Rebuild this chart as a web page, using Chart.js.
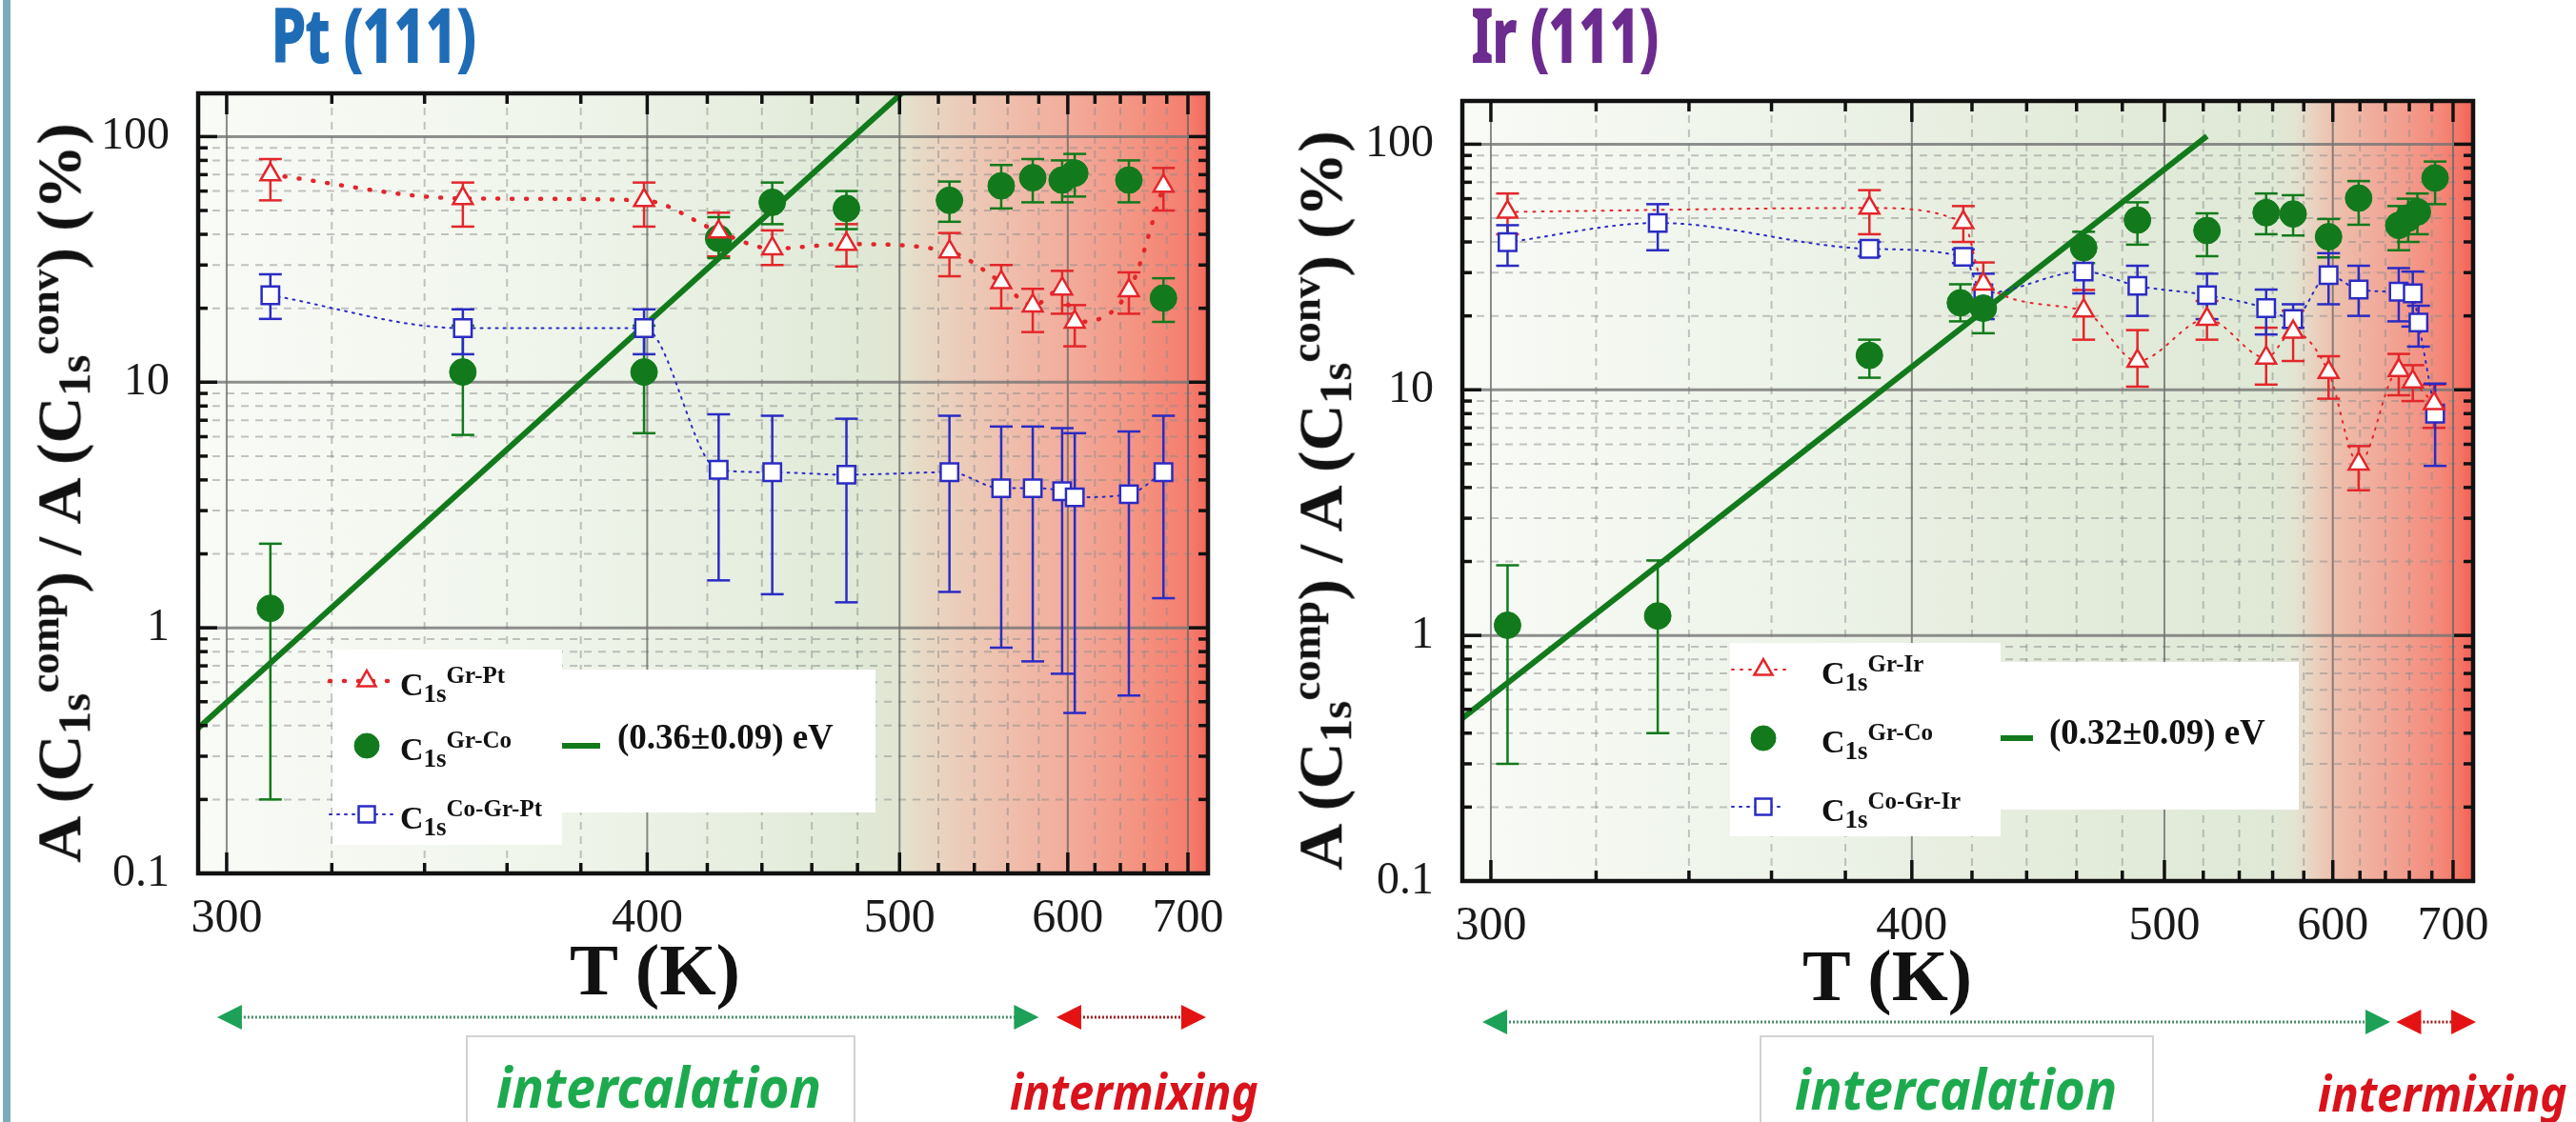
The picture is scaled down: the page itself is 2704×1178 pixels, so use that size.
<!DOCTYPE html>
<html>
<head>
<meta charset="utf-8">
<title>Gr/Co intercalation on Pt(111) and Ir(111)</title>
<script src="https://cdn.jsdelivr.net/npm/chart.js@4.4.1/dist/chart.umd.min.js"></script>
<style>
  html, body { margin: 0; padding: 0; background: #fff; }
  body { position: relative; width: 2704px; height: 1178px; overflow: hidden; }
  canvas { position: absolute; top: 0; }
  #cPt { left: 0; }
  #cIr { left: 1352px; }
  .txt { position: absolute; white-space: nowrap; }
  .heavy { -webkit-text-stroke: 2px currentColor; }
  .sb { font-size: 0.72em; position: relative; top: 0.22em; }
  .sp { font-size: 0.66em; position: relative; top: -0.52em; }
  .edge { position: absolute; left: 3px; top: 0; width: 8px; height: 1178px; background: #7eabba; }
  .box { position: absolute; background: #fff; border: 2px solid #d2d2d2; }
</style>
</head>
<body>
<div class="edge"></div>
<canvas id="cPt" width="1352" height="1178"></canvas>
<canvas id="cIr" width="1352" height="1178"></canvas>
<div class="box" style="left:489px; top:1087px; width:405px; height:120px;"></div>
<div class="box" style="left:1847px; top:1087px; width:410px; height:120px;"></div>
<script>
// ---- Pt(111): temperature (K) and A(comp)/A(conv) ratio (%) ----
const T_PT = [308, 349, 399, 424, 444, 475, 526, 556, 576, 596, 605, 647, 677];
const PT_GRPT    = [70, 56, 55, 41, 35, 36.5, 34, 25.5, 20.5, 24, 17.6, 23.6, 63];
const PT_GRPT_LO = [55, 43, 43, 32.5, 30, 29.6, 27, 20, 16, 19, 14, 19, 50];
const PT_GRPT_HI = [81, 65, 65, 49, 41.5, 44, 40.5, 30, 24, 28.4, 20.6, 28, 74.5];
const PT_GRCO    = [1.2, 11, 11, 38.5, 54, 51, 55, 63, 68, 66.5, 71, 66.5, 22];
const PT_GRCO_LO = [0.2, 6.1, 6.2, 32, 44, 42, 45, 51, 54, 54, 57, 54, 17.6];
const PT_GRCO_HI = [2.2, 17, 17, 47, 65, 60, 65.6, 76.6, 81, 80, 85, 80, 26.5];
const PT_COGR    = [22.6, 16.6, 16.6, 4.4, 4.3, 4.2, 4.3, 3.7, 3.7, 3.6, 3.4, 3.5, 4.3];
const PT_COGR_LO = [18.1, 13, 13, 1.56, 1.37, 1.27, 1.4, 0.83, 0.73, 0.65, 0.45, 0.53, 1.32];
const PT_COGR_HI = [27.5, 19.8, 19.8, 7.4, 7.3, 7.1, 7.3, 6.6, 6.6, 6.5, 6.2, 6.3, 7.3];
const PT_FIT_T = [295, 501];
const PT_FIT_V = [0.39, 150];

// ---- Ir(111) ----
const T_IR_GRIR = [303, 387, 417, 424, 463, 487, 522, 556, 573, 597, 619, 651, 663, 682];
const IR_GRIR    = [53, 55, 48, 27, 21, 13.1, 19.4, 13.5, 17.2, 11.8, 5.0, 12.0, 10.8, 8.8];
const IR_GRIR_LO = [43, 43, 40, 22, 16, 10.3, 16, 10.5, 13.1, 9.2, 3.9, 9.5, 9, 7];
const IR_GRIR_HI = [63, 65, 56, 33, 25.5, 17.5, 23, 17.9, 21, 13.7, 5.9, 14, 12.6, 10.5];
const T_IR_GRCO = [303, 333, 387, 416, 424, 463, 487, 522, 556, 573, 597, 619, 651, 659, 667, 683];
const IR_GRCO    = [1.1, 1.2, 13.8, 22.6, 21.5, 37.9, 49.1, 44.5, 52.6, 52, 42, 60.3, 46.7, 50, 53, 72.8];
const IR_GRCO_LO = [0.3, 0.4, 11.2, 19, 17, 32.8, 39, 35, 43, 42.5, 34.6, 47, 37, 40, 43, 57];
const IR_GRCO_HI = [1.93, 2.02, 16, 26.9, 25.6, 44, 58, 52.3, 63, 62, 49.6, 70.8, 56, 60, 63, 85];
const T_IR_COGR = [303, 333, 387, 417, 424, 463, 487, 522, 556, 573, 597, 619, 651, 663, 668, 683];
const IR_COGR    = [39.9, 47.8, 37.5, 34.8, 24.7, 30.3, 26.5, 24.3, 21.5, 19.4, 29.3, 25.6, 25.1, 24.7, 18.8, 8.0];
const IR_COGR_LO = [32, 37, 35, 32.8, 19.4, 24.7, 20, 19.4, 16.8, 17.9, 22.3, 20, 19, 18.1, 15, 4.9];
const IR_COGR_HI = [46.8, 57, 40, 37.3, 29.7, 37.3, 32, 29.7, 25.6, 22.3, 36, 32, 31.3, 30.3, 22, 10.6];
const IR_FIT_T = [295, 522];
const IR_FIT_V = [0.46, 108];

// ---- axes ----
const T_MIN = 295, T_MAX = 720;
const T_MAJOR = [300, 400, 500, 600, 700];
const T_MINOR = [320, 340, 360, 380, 420, 440, 460, 480, 520, 540, 560, 580, 620, 640, 660, 680];
const Y_MIN = 0.1, Y_MAX = 150;
const Y_TICKS = [0.1, 1, 10, 100];
const Y_LABELS = ['0.1', '1', '10', '100'];
const Y_MINOR = [0.2, 0.3, 0.4, 0.5, 0.6, 0.7, 0.8, 0.9, 2, 3, 4, 5, 6, 7, 8, 9, 20, 30, 40, 50, 60, 70, 80, 90];

const RED = '#e3262b', GREEN = '#127a1c', BLUE = '#2b2bc4';
const SERIF = '"Liberation Serif", "Times New Roman", serif';

function series(T, V) {
  return T.map((t, i) => ({ x: 1000 / t, y: V[i] }));
}

function line(ctx, x0, y0, x1, y1) {
  ctx.beginPath(); ctx.moveTo(x0, y0); ctx.lineTo(x1, y1); ctx.stroke();
}

function cLabel(ctx, x, base, sup) {
  ctx.fillStyle = '#111';
  ctx.textAlign = 'left';
  ctx.textBaseline = 'alphabetic';
  ctx.font = 'bold 34px ' + SERIF;
  ctx.fillText('C', x, base);
  x += ctx.measureText('C').width;
  ctx.font = 'bold 27px ' + SERIF;
  ctx.fillText('1s', x, base + 7);
  x += ctx.measureText('1s').width;
  ctx.font = 'bold 25px ' + SERIF;
  ctx.fillText(sup, x, base - 13);
}

// background, grid, error bars, frame, legend and arrows
function decor(p) {
  return {
    id: 'decor',
    beforeDraw(chart) {
      const { ctx, chartArea: a, scales: { x } } = chart;
      const g = ctx.createLinearGradient(a.left, 0, a.right, 0);
      p.bg.forEach(([t, c]) => {
        const f = (x.getPixelForValue(1000 / t) - a.left) / (a.right - a.left);
        g.addColorStop(Math.min(1, Math.max(0, f)), c);
      });
      ctx.save();
      ctx.fillStyle = g;
      ctx.fillRect(a.left, a.top, a.width, a.height);
      ctx.restore();
    },
    beforeDatasetsDraw(chart) {
      const { ctx, chartArea: a, scales: { x, y } } = chart;
      ctx.save();
      ctx.beginPath(); ctx.rect(a.left, a.top, a.width, a.height); ctx.clip();
      ctx.setLineDash([8, 7]);
      ctx.lineWidth = 2;
      ctx.strokeStyle = 'rgba(140,140,140,0.5)';
      T_MINOR.forEach(t => { const px = x.getPixelForValue(1000 / t); line(ctx, px, a.top, px, a.bottom); });
      Y_MINOR.forEach(v => { const py = y.getPixelForValue(v); line(ctx, a.left, py, a.right, py); });
      ctx.setLineDash([]);
      ctx.strokeStyle = 'rgba(100,100,100,0.75)';
      T_MAJOR.forEach(t => { const px = x.getPixelForValue(1000 / t); line(ctx, px, a.top, px, a.bottom); });
      ctx.lineWidth = 3;
      ctx.strokeStyle = 'rgba(115,115,115,0.8)';
      Y_TICKS.forEach(v => { const py = y.getPixelForValue(v); line(ctx, a.left, py, a.right, py); });
      // legend panel hides the grid
      ctx.fillStyle = '#fff';
      p.legend.boxes.forEach(b => ctx.fillRect(b[0], b[1], b[2] - b[0], b[3] - b[1]));
      ctx.restore();

      // error bars
      ctx.save();
      chart.data.datasets.forEach((ds, i) => {
        if (!ds.errLo) return;
        const meta = chart.getDatasetMeta(i);
        ctx.strokeStyle = ds.errColor;
        ctx.lineWidth = 2.5;
        meta.data.forEach((pt, j) => {
          const yl = y.getPixelForValue(ds.errLo[j]);
          const yh = y.getPixelForValue(ds.errHi[j]);
          line(ctx, pt.x, yl, pt.x, yh);
          line(ctx, pt.x - 12, yl, pt.x + 12, yl);
          line(ctx, pt.x - 12, yh, pt.x + 12, yh);
        });
      });
      ctx.restore();
    },
    afterDatasetsDraw(chart) {
      const { ctx, chartArea: a, scales: { x, y } } = chart;
      ctx.save();
      // inward ticks on all four sides
      ctx.strokeStyle = '#111';
      ctx.lineWidth = 3.5;
      const xt = (t, len) => {
        const px = x.getPixelForValue(1000 / t);
        line(ctx, px, a.bottom, px, a.bottom - len);
        line(ctx, px, a.top, px, a.top + len);
      };
      T_MAJOR.forEach(t => xt(t, 22));
      T_MINOR.forEach(t => xt(t, 11));
      const yt = (v, len) => {
        const py = y.getPixelForValue(v);
        line(ctx, a.left, py, a.left + len, py);
        line(ctx, a.right, py, a.right - len, py);
      };
      Y_TICKS.forEach(v => yt(v, 20));
      Y_MINOR.forEach(v => yt(v, 10));
      ctx.lineWidth = 4.5;
      ctx.strokeRect(a.left, a.top, a.width, a.height);

      // legend
      const L = p.legend;
      L.rows.forEach(r => {
        const ds = chart.data.datasets[r.ds];
        if (ds.showLine !== false) {
          ctx.save();
          ctx.strokeStyle = ds.borderColor;
          ctx.lineWidth = ds.borderWidth;
          ctx.lineCap = ds.borderCapStyle || 'butt';
          ctx.setLineDash(ds.borderDash || []);
          line(ctx, L.lineX[0], r.y, L.lineX[1], r.y);
          ctx.restore();
        }
        ctx.fillStyle = ds.pointBackgroundColor;
        ctx.strokeStyle = ds.pointBorderColor;
        ctx.lineWidth = ds.pointBorderWidth;
        Chart.helpers.drawPoint(ctx, { pointStyle: ds.pointStyle, rotation: 0, radius: r.radius, borderWidth: ds.pointBorderWidth }, L.markX, r.y);
        cLabel(ctx, L.textX, r.y + 15, r.sup);
      });
      const fds = chart.data.datasets[3];
      ctx.strokeStyle = fds.borderColor;
      ctx.lineWidth = 6;
      line(ctx, L.fit.x0, L.fit.y, L.fit.x1, L.fit.y);
      ctx.fillStyle = '#111';
      ctx.font = 'bold 37px ' + SERIF;
      ctx.textBaseline = 'alphabetic';
      ctx.fillText(L.fit.text, L.fit.tx, L.fit.base);

      // regime arrows under the axis
      p.arrows.forEach(ar => {
        const x0 = x.getPixelForValue(1000 / ar.from);
        const x1 = x.getPixelForValue(1000 / ar.to);
        const yy = a.bottom + p.arrowDy;
        ctx.save();
        ctx.strokeStyle = ar.line;
        ctx.lineWidth = 3;
        ctx.setLineDash([2, 2]);
        line(ctx, x0 + 20, yy, x1 - 20, yy);
        ctx.restore();
        ctx.fillStyle = ar.head;
        [[x0, 1], [x1, -1]].forEach(([tx, d]) => {
          ctx.beginPath();
          ctx.moveTo(tx, yy);
          ctx.lineTo(tx + d * 26, yy - 13);
          ctx.lineTo(tx + d * 26, yy + 13);
          ctx.closePath();
          ctx.fill();
        });
      });
      ctx.restore();
    }
  };
}

function datasets(d) {
  return [
    { data: series(d.tA, d.a), errLo: d.aLo, errHi: d.aHi, errColor: RED,
      borderColor: RED, borderWidth: d.aWidth, borderDash: d.aDash, borderCapStyle: 'round',
      cubicInterpolationMode: 'monotone', fill: false,
      pointStyle: 'triangle', pointRadius: 12, pointBackgroundColor: '#fff', pointBorderColor: RED, pointBorderWidth: 2.5 },
    { data: series(d.tB, d.b), errLo: d.bLo, errHi: d.bHi, errColor: GREEN, showLine: false,
      borderColor: GREEN, pointStyle: 'circle', pointRadius: 14, pointBackgroundColor: GREEN, pointBorderColor: GREEN, pointBorderWidth: 1 },
    { data: series(d.tC, d.c), errLo: d.cLo, errHi: d.cHi, errColor: BLUE,
      borderColor: BLUE, borderWidth: 2, borderDash: [2, 6], borderCapStyle: 'round',
      cubicInterpolationMode: 'monotone', fill: false,
      pointStyle: 'rect', pointRadius: 13, pointBackgroundColor: '#fff', pointBorderColor: BLUE, pointBorderWidth: 2.5 },
    { data: series(d.fitT, d.fitV), borderColor: GREEN, borderWidth: 6, pointRadius: 0, fill: false, tension: 0 }
  ];
}

function makeChart(id, p) {
  return new Chart(document.getElementById(id), {
    type: 'line',
    data: { datasets: p.datasets },
    options: {
      responsive: false,
      animation: false,
      events: [],
      layout: { padding: p.pad },
      plugins: { legend: { display: false }, tooltip: { enabled: false } },
      scales: {
        x: {
          type: 'linear', reverse: true, min: 1000 / T_MAX, max: 1000 / T_MIN,
          afterBuildTicks: s => { s.ticks = T_MAJOR.map(t => ({ value: 1000 / t })); },
          afterFit: s => { s.height = 100; },
          grid: { display: false, drawTicks: false },
          border: { display: false },
          ticks: {
            autoSkip: false, maxRotation: 0, padding: 18, color: '#1a1a1a',
            font: { family: SERIF, size: 50 },
            callback: v => String(Math.round(1000 / v))
          }
        },
        y: {
          type: 'logarithmic', min: Y_MIN, max: Y_MAX,
          afterBuildTicks: s => { s.ticks = Y_TICKS.map(v => ({ value: v })); },
          afterFit: s => { s.width = p.yWidth; },
          grid: { display: false, drawTicks: false },
          border: { display: false },
          ticks: {
            autoSkip: false, padding: 30, color: '#1a1a1a',
            font: { family: SERIF, size: 48 },
            callback: v => Y_LABELS[Y_TICKS.indexOf(v)]
          }
        }
      }
    },
    plugins: [decor(p)]
  });
}

makeChart('cPt', {
  yWidth: 208,
  pad: { left: 0, top: 98, right: 84, bottom: 161 },
  datasets: datasets({
    tA: T_PT, a: PT_GRPT, aLo: PT_GRPT_LO, aHi: PT_GRPT_HI, aWidth: 4.5, aDash: [1, 14],
    tB: T_PT, b: PT_GRCO, bLo: PT_GRCO_LO, bHi: PT_GRCO_HI,
    tC: T_PT, c: PT_COGR, cLo: PT_COGR_LO, cHi: PT_COGR_HI,
    fitT: PT_FIT_T, fitV: PT_FIT_V
  }),
  bg: [[295, '#f9fbf6'], [360, '#f1f6ed'], [440, '#e6eedf'], [480, '#dfe9d6'], [498, '#e1e6d2'],
       [508, '#e6dcc8'], [527, '#eacfbc'], [561, '#efbeac'], [600, '#f2ac9c'], [658, '#f4917f'],
       [702, '#f47d6e'], [720, '#f3675a']],
  legend: {
    boxes: [[349, 682, 590, 887], [590, 703, 919, 853]],
    lineX: [346, 418], markX: 385, textX: 420,
    rows: [
      { ds: 0, y: 715, radius: 11, sup: 'Gr-Pt' },
      { ds: 1, y: 783, radius: 13, sup: 'Gr-Co' },
      { ds: 2, y: 855, radius: 12, sup: 'Co-Gr-Pt' }
    ],
    fit: { x0: 590, x1: 630, y: 783, tx: 648, base: 786, text: '(0.36\u00b10.09) eV' }
  },
  arrowDy: 151,
  arrows: [
    { from: 298.3, to: 580, head: '#1da058', line: '#4a8a6a' },
    { from: 592, to: 718, head: '#e41313', line: '#9a1c1c' }
  ]
});

makeChart('cIr', {
  yWidth: 183,
  pad: { left: 0, top: 106, right: 108, bottom: 153 },
  datasets: datasets({
    tA: T_IR_GRIR, a: IR_GRIR, aLo: IR_GRIR_LO, aHi: IR_GRIR_HI, aWidth: 2, aDash: [2, 7],
    tB: T_IR_GRCO, b: IR_GRCO, bLo: IR_GRCO_LO, bHi: IR_GRCO_HI,
    tC: T_IR_COGR, c: IR_COGR, cLo: IR_COGR_LO, cHi: IR_COGR_HI,
    fitT: IR_FIT_T, fitV: IR_FIT_V
  }),
  bg: [[295, '#f9fbf6'], [360, '#eef4ea'], [450, '#e4ecdc'], [560, '#dfe9d6'], [574, '#e2e5d2'],
       [586, '#e9d3c1'], [600, '#eec0ae'], [640, '#f1a797'], [686, '#f48a7b'], [708, '#f47363'],
       [720, '#f25f57']],
  legend: {
    boxes: [[464, 675, 748, 878], [748, 695, 1061, 850]],
    lineX: [466, 522], markX: 499, textX: 560,
    rows: [
      { ds: 0, y: 703, radius: 11, sup: 'Gr-Ir' },
      { ds: 1, y: 775, radius: 13, sup: 'Gr-Co' },
      { ds: 2, y: 847, radius: 12, sup: 'Co-Gr-Ir' }
    ],
    fit: { x0: 748, x1: 782, y: 775, tx: 799, base: 781, text: '(0.32\u00b10.09) eV' }
  },
  arrowDy: 148,
  arrows: [
    { from: 298.5, to: 644, head: '#1da058', line: '#4a8a6a' },
    { from: 649, to: 723, head: '#e41313', line: '#9a1c1c' }
  ]
});

// ---- HTML text around the plots ----
function placeText(html, o) {
  const d = document.createElement('div');
  d.className = 'txt' + (o.heavy ? ' heavy' : '');
  d.innerHTML = html;
  d.style.fontFamily = o.family;
  d.style.fontWeight = 'bold';
  d.style.fontStyle = o.italic ? 'italic' : 'normal';
  d.style.fontSize = o.size + 'px';
  d.style.lineHeight = o.size + 'px';
  d.style.color = o.color || '#111';
  document.body.appendChild(d);
  const w = d.offsetWidth, h = d.offsetHeight;
  const k = o.width / w;
  if (o.rotate) {
    d.style.left = (o.cx - w / 2) + 'px';
    d.style.top = (o.cy - h / 2) + 'px';
    d.style.transform = 'rotate(-90deg) scaleX(' + k + ')';
  } else {
    d.style.left = o.x + 'px';
    d.style.top = (o.base - o.asc * o.size) + 'px';
    d.style.transformOrigin = '0 0';
    d.style.transform = 'scaleX(' + k + ')';
  }
}

const SANS = '"Noto Sans", "DejaVu Sans", sans-serif';
const yTitle = 'A (C<span class="sb">1s</span><span class="sp">comp</span>) / A (C<span class="sb">1s</span><span class="sp">conv</span>) (%)';

placeText('Pt (111)', { family: SANS, heavy: true, size: 77, color: '#1f6cb6', x: 285, width: 215, base: 65, asc: 0.888 });
placeText('Ir (111)', { family: SANS, heavy: true, size: 77, color: '#6c2c8f', x: 1545, width: 196, base: 65, asc: 0.888 });
placeText(yTitle, { family: SERIF, size: 66, rotate: true, cx: 66, cy: 517, width: 777 });
placeText(yTitle, { family: SERIF, size: 66, rotate: true, cx: 1390, cy: 525, width: 777 });
placeText('T (K)', { family: SERIF, size: 76, x: 598, width: 179, base: 1044, asc: 0.8375 });
placeText('T (K)', { family: SERIF, size: 76, x: 1892, width: 178, base: 1050, asc: 0.8375 });
placeText('intercalation', { family: SANS, italic: true, size: 60, color: '#1daa4f', x: 521, width: 341, base: 1163, asc: 0.888 });
placeText('intercalation', { family: SANS, italic: true, size: 60, color: '#1daa4f', x: 1884, width: 338, base: 1165, asc: 0.888 });
placeText('intermixing', { family: SANS, italic: true, size: 52, color: '#d9121b', x: 1060, width: 261, base: 1165, asc: 0.888 });
placeText('intermixing', { family: SANS, italic: true, size: 52, color: '#d9121b', x: 2433, width: 262, base: 1167, asc: 0.888 });
</script>
</body>
</html>
